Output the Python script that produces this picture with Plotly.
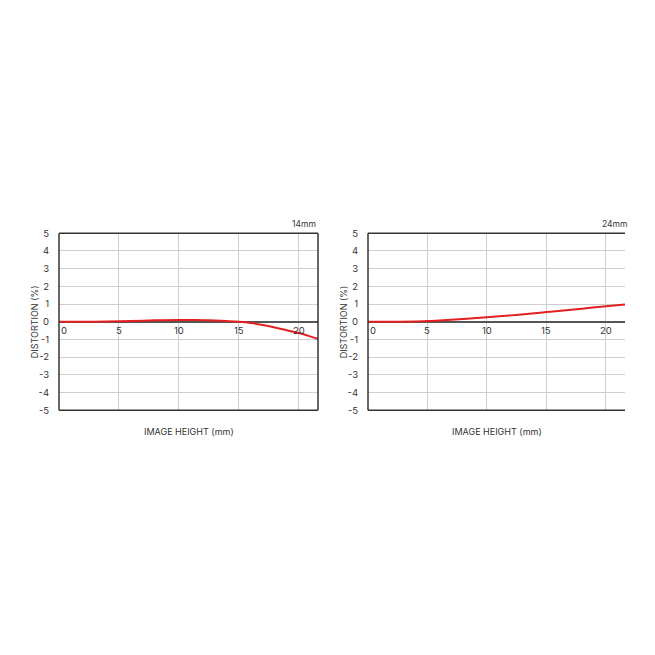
import plotly.graph_objects as go

# 14mm distortion data
x14 = [0, 2, 4, 6, 8, 10, 11, 12, 13, 14, 15, 16, 17, 18, 19, 20, 21, 21.6]
d14 = [0, 0.0, 0.01, 0.04, 0.08, 0.1, 0.1, 0.09, 0.07, 0.04, 0.0, -0.07, -0.18, -0.32, -0.48, -0.64, -0.84, -0.97]
# 24mm distortion data
x24 = [0, 2, 4, 5, 6, 8, 10, 12, 14, 15, 16, 18, 20, 21.6]
d24 = [0, 0.0, 0.02, 0.04, 0.07, 0.15, 0.25, 0.36, 0.48, 0.55, 0.61, 0.74, 0.87, 0.97]

y_ticks = [5, 4, 3, 2, 1, 0, -1, -2, -3, -4, -5]
y_ticklabels = ["5", "4", "3", "2", "1", "0", "-1", "-2", "-3", "-4", "-5"]
x_ticks = [0, 5, 10, 15, 20]
titles = ["14mm", "24mm"]
x_title = "IMAGE HEIGHT (mm)"
y_title = "DISTORTION (%)"

W = H = 655
OFF = 8  # page body margin
FONT = "Inter, Noto Sans, sans-serif"
TXT = "#333333"
RED = "#e3201f"
GRID = "#cfcfcf"

left_dom = [(59 - OFF) / W, (318 - OFF) / W]
right_dom = [(368 - OFF) / W, (625 - OFF) / W]
y_dom = [1 - (411 - OFF) / H, 1 - (231 - OFF) / H]
XR = [0, 21.6]

fig = go.Figure()
fig.add_trace(go.Scatter(x=x14, y=d14, mode="lines", line=dict(color=RED, width=2, shape="spline"),
                         xaxis="x", yaxis="y", showlegend=False))
fig.add_trace(go.Scatter(x=x24, y=d24, mode="lines", line=dict(color=RED, width=2, shape="spline"),
                         xaxis="x2", yaxis="y2", showlegend=False))

ax_common = dict(range=XR, tickvals=[5, 10, 15, 20], showticklabels=False, showgrid=True,
                 gridcolor=GRID, gridwidth=1, zeroline=False, showline=False, ticks="", fixedrange=True)
ay_common = dict(range=[-5, 5], tickvals=y_ticks, ticktext=y_ticklabels, showgrid=True,
                 gridcolor=GRID, gridwidth=1,
                 zeroline=True, zerolinecolor="#555555", zerolinewidth=1.5, showline=False,
                 ticks="outside", ticklen=7, tickcolor="rgba(0,0,0,0)",
                 tickfont=dict(family=FONT, size=9.5, color=TXT), fixedrange=True, domain=y_dom)

fig.update_layout(
    width=W, height=H, margin=dict(l=0, r=0, t=0, b=0),
    paper_bgcolor="white", plot_bgcolor="white",
    xaxis=dict(domain=left_dom, anchor="y", **ax_common),
    yaxis=dict(anchor="x", **ay_common),
    xaxis2=dict(domain=right_dom, anchor="y2", **ax_common),
    yaxis2=dict(anchor="x2", **ay_common),
)

shapes = []
ann = []
for i, (xa, ya) in enumerate([("x", "y"), ("x2", "y2")]):
    xd = f"{xa} domain"
    yd = f"{ya} domain"
    line = dict(color="#333333", width=1.5)
    shapes.append(dict(type="line", xref=xd, yref=yd, x0=0, x1=0, y0=0, y1=1, line=line))
    shapes.append(dict(type="line", xref=xd, yref=yd, x0=0, x1=1, y0=0, y1=0, line=line))
    shapes.append(dict(type="line", xref=xd, yref=yd, x0=0, x1=1, y0=1, y1=1, line=line))
    if i == 0:
        shapes.append(dict(type="line", xref=xd, yref=yd, x0=1, x1=1, y0=0, y1=1, line=line))
    for t in x_ticks:
        ann.append(dict(x=t + (0.4 if t == 0 else 0), y=-0.08, xref=xa, yref=ya, text=str(t),
                        showarrow=False, xanchor="center", yanchor="top",
                        font=dict(family=FONT, size=9.5, color=TXT)))
    ann.append(dict(x=0.5, y=-0.08, xref=xd, yref=yd, text=x_title, showarrow=False,
                    xanchor="center", yanchor="top", font=dict(family=FONT, size=9, color=TXT)))
    ann.append(dict(x=-0.095, y=0.5, xref=xd, yref=yd, text=y_title, showarrow=False, textangle=-90,
                    xanchor="center", yanchor="middle", font=dict(family=FONT, size=9, color=TXT)))

ann.append(dict(x=1.0, y=1.01, xref="x domain", yref="y domain", text=titles[0], showarrow=False,
                xanchor="right", yanchor="bottom", font=dict(family=FONT, size=8.5, color=TXT)))
ann.append(dict(x=1.015, y=1.01, xref="x2 domain", yref="y2 domain", text=titles[1], showarrow=False,
                xanchor="right", yanchor="bottom", font=dict(family=FONT, size=8.5, color=TXT)))

fig.update_layout(shapes=shapes, annotations=ann)
fig.write_html("out.html")
